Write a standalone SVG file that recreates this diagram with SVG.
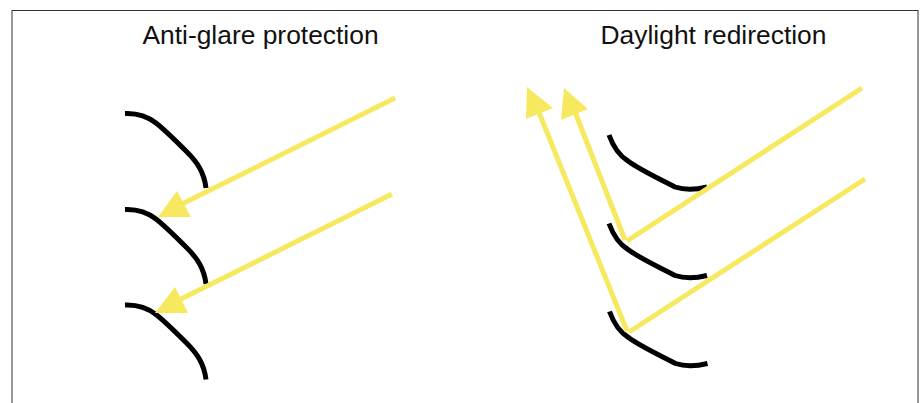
<svg xmlns="http://www.w3.org/2000/svg" width="924" height="403" viewBox="0 0 924 403">
<style>
text{font-family:"Liberation Sans",Arial,sans-serif;font-size:26.4px;fill:#111;text-anchor:middle}
.slat{fill:none;stroke:#000;stroke-width:5}
.ray{fill:none;stroke:#f7e95f;stroke-width:5}
.head{fill:#f7e95f;stroke:none}
</style>
<defs>
<path id="s1" class="slat" d="M125 113.500C137 113 147 116 156 123C165 130 176 141 187 152C197 162 204 172 206 188"/>
<path id="s2" class="slat" d="M609 135C613 146 618 155 628 161C640 170 660 179 675 187C684 190 695 190 707 187"/>
</defs>
<rect x="12" y="10.500" width="906" height="420" fill="#fff" stroke="#333" stroke-width="1"/>
<text x="260.500" y="44">Anti-glare protection</text>
<text x="713.500" y="44">Daylight redirection</text>
<g id="slats-left">
<use href="#s1"/><use href="#s1" y="96"/><use href="#s1" y="191.500"/>
</g>
<g id="slats-right">
<use href="#s2"/><use href="#s2" y="88.500"/><use href="#s2" x="0.500" y="176.500"/>
</g>
<g id="connectors">
<path class="ray" d="M395 98L180 205"/>
<path class="head" d="M158 217L177 191L191 217Z"/>
<path class="ray" d="M392 194L177 301"/>
<path class="head" d="M155 313L175 287L188 313Z"/>
<path class="ray" d="M862 88L627 241"/>
<path class="ray" d="M625 240L575 112"/>
<path class="head" d="M564 88L561 120L588 109Z"/>
<path class="ray" d="M865 179L629 332"/>
<path class="ray" d="M627 331L538 110"/>
<path class="head" d="M527 87L526 119L553 108Z"/>
</g>
</svg>
